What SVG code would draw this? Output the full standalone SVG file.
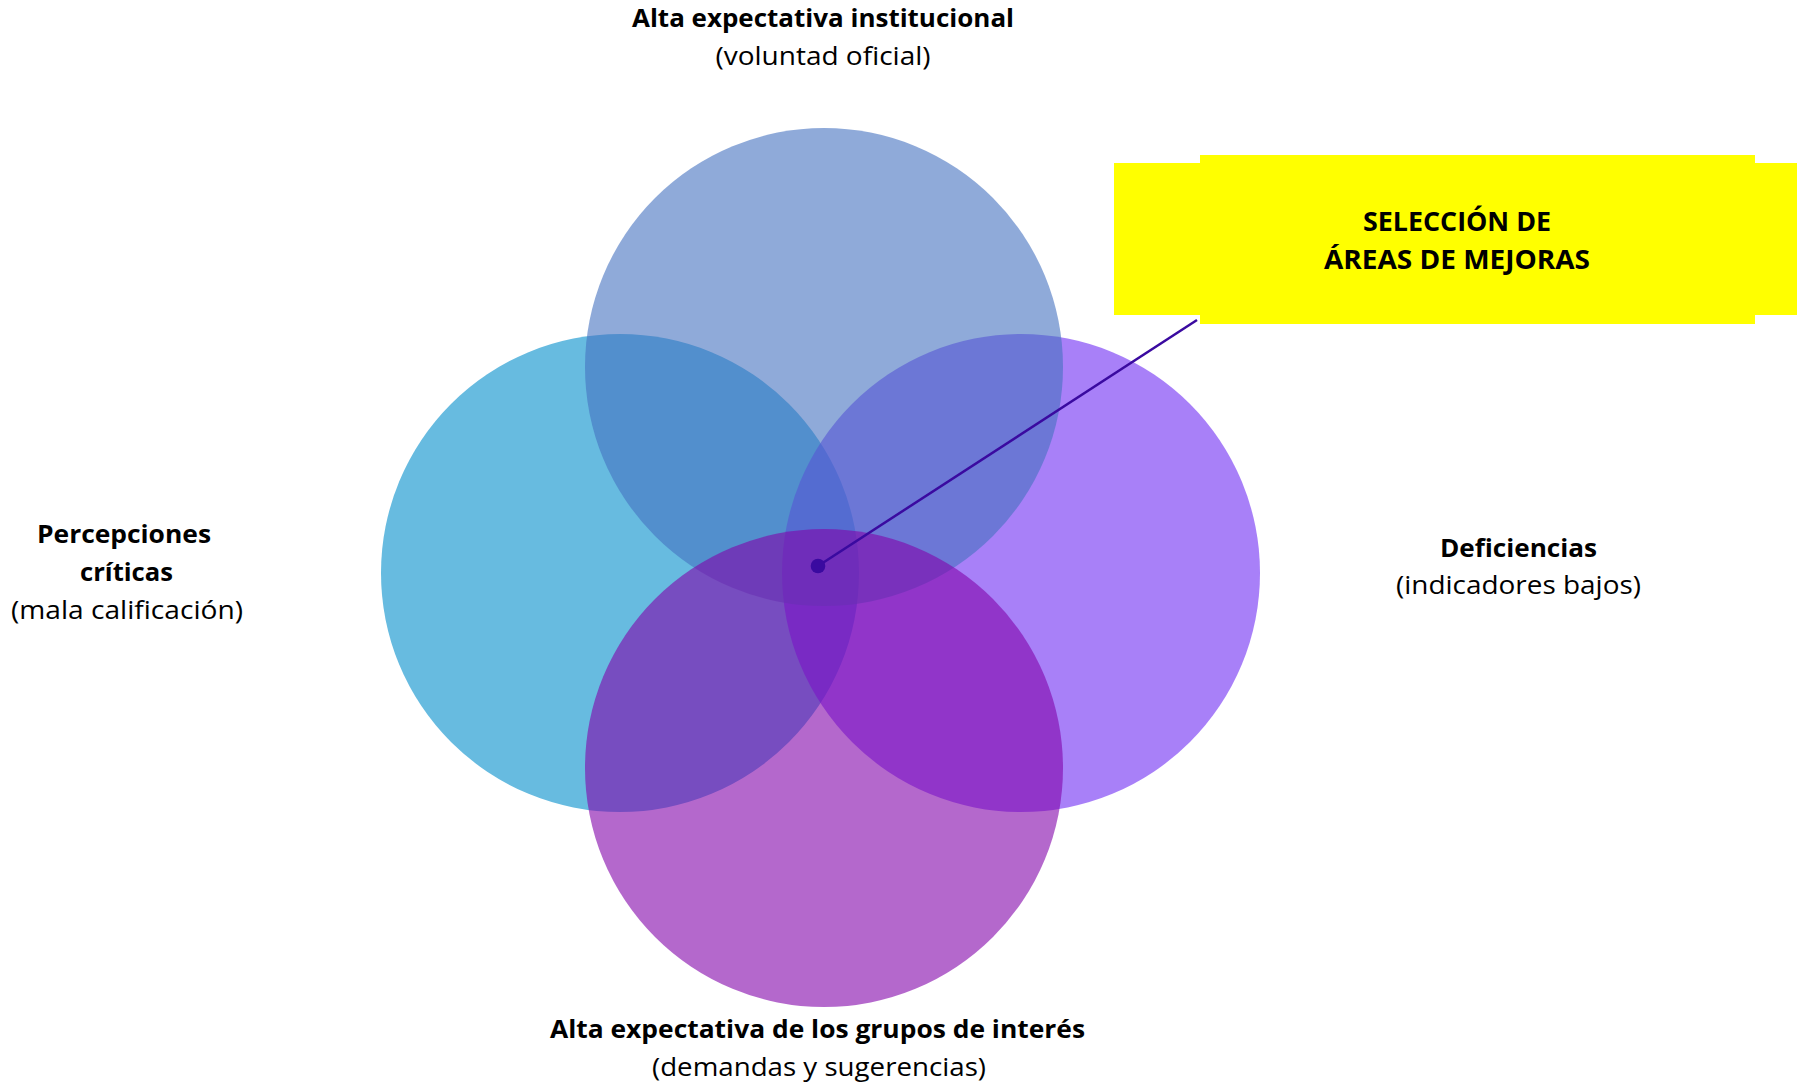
<svg xmlns="http://www.w3.org/2000/svg" width="1797" height="1085" viewBox="0 0 1797 1085">
  <style>
    .lbl { font-family: "Open Sans", "Noto Sans", "Liberation Sans", sans-serif; font-size: 25.5px; fill: #000; text-anchor: middle; }
    .b { font-weight: bold; }
    .box { font-family: "Open Sans", "Noto Sans", "Liberation Sans", sans-serif; font-size: 27px; font-weight: bold; fill: #000; text-anchor: middle; }
  </style>
  <rect x="0" y="0" width="1797" height="1085" fill="#ffffff"/>

  <g id="circle-left">
    <circle cx="620" cy="573" r="239" fill="#67BBE0"/>
  </g>
  <g id="circle-right">
    <circle cx="1021" cy="573" r="239" fill="#6E2BF3" fill-opacity="0.6"/>
  </g>
  <g id="circle-top">
    <circle cx="824" cy="367" r="239" fill="#4471C0" fill-opacity="0.6"/>
  </g>
  <g id="circle-bottom">
    <circle cx="824" cy="768" r="239" fill="#8203AA" fill-opacity="0.6"/>
  </g>

  <g id="label-top">
    <text class="lbl b" x="823" y="27" textLength="382" lengthAdjust="spacingAndGlyphs">Alta expectativa institucional</text>
    <text class="lbl" x="823" y="65" textLength="215" lengthAdjust="spacingAndGlyphs">(voluntad oficial)</text>
  </g>
  <g id="label-left">
    <text class="lbl b" x="124" y="543" textLength="174" lengthAdjust="spacingAndGlyphs">Percepciones</text>
    <text class="lbl b" x="126.5" y="581" textLength="93" lengthAdjust="spacingAndGlyphs">críticas</text>
    <text class="lbl" x="127" y="619" textLength="232" lengthAdjust="spacingAndGlyphs">(mala calificación)</text>
  </g>
  <g id="label-right">
    <text class="lbl b" x="1518.5" y="557" textLength="157" lengthAdjust="spacingAndGlyphs">Deficiencias</text>
    <text class="lbl" x="1518.5" y="594" textLength="245" lengthAdjust="spacingAndGlyphs">(indicadores bajos)</text>
  </g>
  <g id="label-bottom">
    <text class="lbl b" x="817.5" y="1038" textLength="535" lengthAdjust="spacingAndGlyphs">Alta expectativa de los grupos de interés</text>
    <text class="lbl" x="819" y="1076" textLength="334" lengthAdjust="spacingAndGlyphs">(demandas y sugerencias)</text>
  </g>

  <g id="callout-box">
    <rect x="1114" y="163" width="683" height="152" fill="#FFFF00"/>
    <rect x="1200" y="155" width="555" height="169" fill="#FFFF00"/>
    <text class="box" x="1457" y="231" textLength="188" lengthAdjust="spacingAndGlyphs">SELECCIÓN DE</text>
    <text class="box" x="1457" y="269" textLength="266" lengthAdjust="spacingAndGlyphs">ÁREAS DE MEJORAS</text>
  </g>

  <g id="connectors">
    <line x1="818" y1="566" x2="1197" y2="320" stroke="#3A0AA0" stroke-width="2.5"/>
    <circle cx="818" cy="566" r="7.3" fill="#3A0AA0"/>
  </g>
</svg>
